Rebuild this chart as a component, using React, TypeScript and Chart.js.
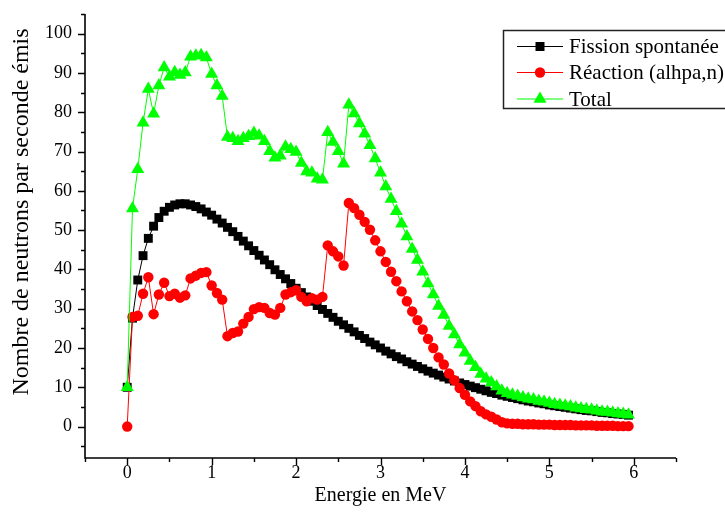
import React, { useEffect, useRef } from "react";
import { Chart, registerables } from "chart.js";

Chart.register(...registerables);

// ---- Data ----
const energies = [
  0, 0.0625, 0.125, 0.1875, 0.25, 0.3125, 0.375, 0.4375, 0.5, 0.5625, 0.625, 0.6875, 0.75, 0.8125, 0.875, 0.9375,
  1, 1.0625, 1.125, 1.1875, 1.25, 1.3125, 1.375, 1.4375, 1.5, 1.5625, 1.625, 1.6875, 1.75, 1.8125, 1.875, 1.9375,
  2, 2.0625, 2.125, 2.1875, 2.25, 2.3125, 2.375, 2.4375, 2.5, 2.5625, 2.625, 2.6875, 2.75, 2.8125, 2.875, 2.9375,
  3, 3.0625, 3.125, 3.1875, 3.25, 3.3125, 3.375, 3.4375, 3.5, 3.5625, 3.625, 3.6875, 3.75, 3.8125, 3.875, 3.9375,
  4, 4.0625, 4.125, 4.1875, 4.25, 4.3125, 4.375, 4.4375, 4.5, 4.5625, 4.625, 4.6875, 4.75, 4.8125, 4.875, 4.9375,
  5, 5.0625, 5.125, 5.1875, 5.25, 5.3125, 5.375, 5.4375, 5.5, 5.5625, 5.625, 5.6875, 5.75, 5.8125, 5.875, 5.9375,
];

const fissionSpontanee = [
  10.0, 27.6, 37.3, 43.5, 47.9, 51.0, 53.2, 54.8, 55.8, 56.4, 56.7, 56.7, 56.4, 56.0, 55.4, 54.6,
  53.8, 52.8, 51.8, 50.7, 49.6, 48.4, 47.2, 46.0, 44.8, 43.6, 42.4, 41.2, 39.9, 38.7, 37.6, 36.4,
  35.2, 34.1, 33.0, 31.9, 30.8, 29.8, 28.8, 27.8, 26.8, 25.9, 25.0, 24.1, 23.2, 22.4, 21.5, 20.8,
  20.0, 19.2, 18.5, 17.8, 17.2, 16.5, 15.9, 15.3, 14.7, 14.1, 13.6, 13.1, 12.6, 12.1, 11.6, 11.1,
  10.7, 10.3, 9.9, 9.5, 9.1, 8.7, 8.4, 8.0, 7.7, 7.4, 7.1, 6.8, 6.5, 6.3, 6.0, 5.8,
  5.5, 5.3, 5.1, 4.9, 4.7, 4.5, 4.3, 4.1, 4.0, 3.8, 3.6, 3.5, 3.3, 3.2, 3.1, 2.9,
];

const reactionAlphaN = [
  0, 27.9, 28.2, 33.8, 38.0, 28.6, 33.6, 36.6, 33.2, 33.8, 32.8, 33.4, 37.7, 38.4, 39.1, 39.3,
  35.9, 34.0, 32.3, 23.0, 23.8, 24.2, 26.2, 27.9, 29.9, 30.4, 30.2, 28.9, 28.5, 30.2, 33.6, 34.2,
  34.7, 33.0, 31.9, 32.7, 32.3, 33.0, 46.1, 44.6, 43.3, 41.0, 56.9, 55.6, 53.9, 52.1, 50.1, 47.4,
  44.6, 41.9, 39.4, 37.0, 34.4, 31.9, 29.3, 27.1, 24.7, 22.3, 20.0, 17.6, 15.8, 13.5, 11.8, 9.8,
  8.1, 6.4, 5.2, 3.9, 3.1, 2.5, 1.8, 1.1, 0.8, 0.7, 0.7, 0.6, 0.6, 0.6, 0.5, 0.5,
  0.5, 0.4, 0.4, 0.4, 0.4, 0.3, 0.3, 0.3, 0.3, 0.2, 0.2, 0.2, 0.2, 0.1, 0.1, 0.1,
];

const totalNeutrons = [
  10.0, 55.5, 65.5, 77.3, 85.9, 79.6, 86.8, 91.4, 89.0, 90.2, 89.5, 90.1, 94.1, 94.4, 94.5, 93.9,
  89.7, 86.8, 84.1, 73.7, 73.4, 72.6, 73.4, 73.9, 74.7, 74.0, 72.6, 70.1, 68.4, 68.9, 71.2, 70.6,
  69.9, 67.1, 64.9, 64.6, 63.1, 62.8, 74.9, 72.4, 70.1, 66.9, 81.9, 79.7, 77.1, 74.5, 71.6, 68.2,
  64.6, 61.1, 57.9, 54.8, 51.6, 48.4, 45.2, 42.4, 39.4, 36.4, 33.6, 30.7, 28.4, 25.6, 23.4, 20.9,
  18.8, 16.7, 15.1, 13.4, 12.2, 11.2, 10.2, 9.1, 8.5, 8.1, 7.8, 7.4, 7.1, 6.9, 6.5, 6.3,
  6.0, 5.7, 5.5, 5.3, 5.1, 4.8, 4.6, 4.4, 4.3, 4.0, 3.8, 3.7, 3.5, 3.3, 3.2, 3.0,
];

const seriesLabels = ["Fission spontanée", "Réaction (alhpa,n)", "Total"];
const xTickValues = [0, 1, 2, 3, 4, 5, 6];
const yTickValues = [0, 10, 20, 30, 40, 50, 60, 70, 80, 90, 100];
const xMinorTickValues = [-0.5, 0.5, 1.5, 2.5, 3.5, 4.5, 5.5, 6.5];
const yMinorTickValues = [-5, 5, 15, 25, 35, 45, 55, 65, 75, 85, 95, 105];
const xTitle = "Energie en MeV";
const yTitle = "Nombre de neutrons par seconde émis";

const SERIF = "'Liberation Serif', 'Times New Roman', serif";
const COLORS = ["#000000", "#ff0000", "#00ff00"];

function toPoints(values: number[]) {
  return values.map((v, i) => ({ x: energies[i], y: v }));
}

function drawMarker(ctx: CanvasRenderingContext2D, kind: number, x: number, y: number) {
  ctx.fillStyle = COLORS[kind];
  ctx.beginPath();
  if (kind === 0) {
    ctx.rect(x - 4.5, y - 4.5, 9, 9);
  } else if (kind === 1) {
    ctx.arc(x, y, 5.2, 0, Math.PI * 2);
  } else {
    const r = 7.5;
    ctx.moveTo(x, y - r);
    ctx.lineTo(x + r * Math.sin((2 * Math.PI) / 3), y - r * Math.cos((2 * Math.PI) / 3));
    ctx.lineTo(x + r * Math.sin((4 * Math.PI) / 3), y - r * Math.cos((4 * Math.PI) / 3));
    ctx.closePath();
  }
  ctx.fill();
}

const decorPlugin = {
  id: "decor",
  afterDraw(chart: any) {
    const { ctx, chartArea: a, scales } = chart;
    const xs = scales.x;
    const ys = scales.y;
    ctx.save();
    // axes lines
    ctx.strokeStyle = "#000";
    ctx.lineWidth = 1.6;
    ctx.beginPath();
    ctx.moveTo(a.left, a.top);
    ctx.lineTo(a.left, a.bottom);
    ctx.lineTo(a.right, a.bottom);
    ctx.stroke();
    // ticks
    ctx.lineWidth = 1.4;
    ctx.beginPath();
    yTickValues.forEach((v) => {
      const py = Math.round(ys.getPixelForValue(v)) + 0.5;
      ctx.moveTo(a.left, py);
      ctx.lineTo(a.left - 7, py);
    });
    yMinorTickValues.forEach((v) => {
      const py = Math.round(ys.getPixelForValue(v)) + 0.5;
      ctx.moveTo(a.left, py);
      ctx.lineTo(a.left - 4, py);
    });
    xTickValues.forEach((v) => {
      const px = Math.round(xs.getPixelForValue(v)) + 0.5;
      ctx.moveTo(px, a.bottom);
      ctx.lineTo(px, a.bottom + 7);
    });
    xMinorTickValues.forEach((v) => {
      const px = Math.round(xs.getPixelForValue(v)) + 0.5;
      ctx.moveTo(px, a.bottom);
      ctx.lineTo(px, a.bottom + 4);
    });
    ctx.stroke();

    // axis titles
    ctx.fillStyle = "#000";
    ctx.textAlign = "center";
    ctx.textBaseline = "middle";
    ctx.font = `20px ${SERIF}`;
    ctx.fillText(xTitle, (a.left + a.right) / 2, 496);
    ctx.save();
    ctx.translate(22, 212);
    ctx.rotate(-Math.PI / 2);
    ctx.font = `24px ${SERIF}`;
    ctx.fillText(yTitle, 0, 0);
    ctx.restore();

    // legend
    const bx = 503.5;
    const by = 30.5;
    ctx.fillStyle = "#fff";
    ctx.fillRect(bx, by, 240, 78);
    ctx.strokeStyle = "#222";
    ctx.lineWidth = 1.5;
    ctx.strokeRect(bx, by, 240, 78);
    const rows = [46.5, 72.5, 99];
    seriesLabels.forEach((label, i) => {
      const ry = rows[i];
      ctx.strokeStyle = COLORS[i];
      ctx.lineWidth = 1.2;
      ctx.beginPath();
      ctx.moveTo(517, ry);
      ctx.lineTo(563, ry);
      ctx.stroke();
      drawMarker(ctx, i, 540, ry);
      ctx.fillStyle = "#000";
      ctx.font = `21px ${SERIF}`;
      ctx.textAlign = "left";
      ctx.textBaseline = "middle";
      ctx.fillText(label, 569, ry + 1);
    });
    ctx.restore();
  },
};

export default function App() {
  const canvasRef = useRef<HTMLCanvasElement | null>(null);

  useEffect(() => {
    document.body.style.margin = "0";
    const canvas = canvasRef.current;
    if (!canvas) return;
    const chart = new Chart(canvas, {
      type: "line",
      data: {
        datasets: [
          {
            label: seriesLabels[0],
            data: toPoints(fissionSpontanee),
            borderColor: COLORS[0],
            backgroundColor: COLORS[0],
            borderWidth: 1,
            pointStyle: "rect",
            pointRadius: 6.3,
            pointBorderWidth: 0,
            order: 3,
          },
          {
            label: seriesLabels[1],
            data: toPoints(reactionAlphaN),
            borderColor: COLORS[1],
            backgroundColor: COLORS[1],
            borderWidth: 1,
            pointStyle: "circle",
            pointRadius: 5.2,
            pointBorderWidth: 0,
            order: 2,
          },
          {
            label: seriesLabels[2],
            data: toPoints(totalNeutrons),
            borderColor: COLORS[2],
            backgroundColor: COLORS[2],
            borderWidth: 1,
            pointStyle: "triangle",
            pointRadius: 7.5,
            pointBorderWidth: 0,
            order: 1,
          },
        ],
      },
      options: {
        responsive: false,
        animation: false,
        devicePixelRatio: 1,
        events: [],
        layout: { padding: { left: 0, top: 14, right: 49, bottom: 0 } },
        plugins: {
          legend: { display: false },
          tooltip: { enabled: false },
        },
        scales: {
          x: {
            type: "linear",
            min: -0.5,
            max: 6.5,
            grid: { display: false, drawTicks: false },
            border: { display: false },
            afterBuildTicks: (scale: any) => {
              scale.ticks = xTickValues.map((v) => ({ value: v }));
            },
            afterFit: (scale: any) => {
              scale.height = 55;
              scale.paddingLeft = 0;
              scale.paddingRight = 0;
            },
            ticks: {
              padding: 4,
              color: "#000",
              font: { family: SERIF, size: 18 },
              callback: (v: any) => String(v),
            },
          },
          y: {
            type: "linear",
            min: -8,
            max: 105,
            grid: { display: false, drawTicks: false },
            border: { display: false },
            afterBuildTicks: (scale: any) => {
              scale.ticks = yTickValues.map((v) => ({ value: v }));
            },
            afterFit: (scale: any) => {
              scale.width = 85;
              scale.paddingTop = 0;
              scale.paddingBottom = 0;
            },
            ticks: {
              padding: 13,
              color: "#000",
              font: { family: SERIF, size: 18 },
              callback: (v: any) => String(v),
            },
          },
        },
      },
      plugins: [decorPlugin],
    } as any);
    return () => chart.destroy();
  }, []);

  return (
    <div style={{ position: "absolute", left: 0, top: 0, width: 725, height: 513, background: "#fff" }}>
      <canvas ref={canvasRef} width={725} height={513} />
    </div>
  );
}
